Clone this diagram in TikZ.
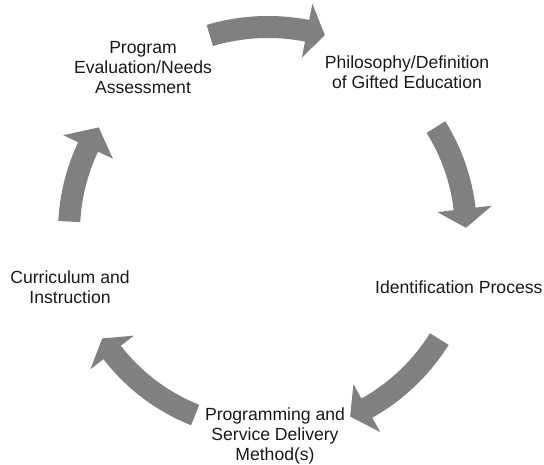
\documentclass[tikz,border=0pt]{standalone}
\usepackage{fontspec}
\setmainfont{Liberation Sans}
\usepackage{tikz}
\tikzset{
  stage/.style={align=center, inner sep=0pt, text=black!90, font=\fontsize{17.6}{20}\selectfont},
  cyclearrow/.style={fill=black!50, draw=none}
}
% #1 radius, #2 tail angle, #3 head base angle, #4 tip angle
\newcommand{\cyclearrow}[4]{%
  \fill[cyclearrow] (#2:#1+11) arc[start angle=#2, end angle=#3, radius=#1+11]
    -- (#3:#1+27.5) -- (#4:#1) -- (#3:#1-27.5) -- (#3:#1-11)
    arc[start angle=#3, end angle=#2, radius=#1-11] -- cycle;
}

\begin{document}
\begin{tikzpicture}[x=1pt, y=1pt]
  \useasboundingbox (0,0) rectangle (544,465);
  \coordinate (hub) at (268,233);

  \node[stage] (evaluation) at (143,397) {Program\\Evaluation/Needs\\Assessment};
  \node[stage] (philosophy) at (407,393) {Philosophy/Definition\\of Gifted Education};
  \node[stage, anchor=west] (identification) at (375,178) {Identification Process};
  \node[stage] (programming) at (275,29) {Programming and\\Service Delivery\\Method(s)};
  \node[stage] (curriculum) at (70,178) {Curriculum and\\Instruction};

  \begin{scope}[shift={(hub)}]
    \cyclearrow{205}{106.5}{79}{73.9}
    \cyclearrow{198}{32}{6.7}{1.2}
    \cyclearrow{202}{-32}{-60.7}{-66}
    \cyclearrow{197}{-111.7}{-142.3}{-147.3}
    \cyclearrow{199}{177}{154.7}{148.3}
  \end{scope}
\end{tikzpicture}
\end{document}
